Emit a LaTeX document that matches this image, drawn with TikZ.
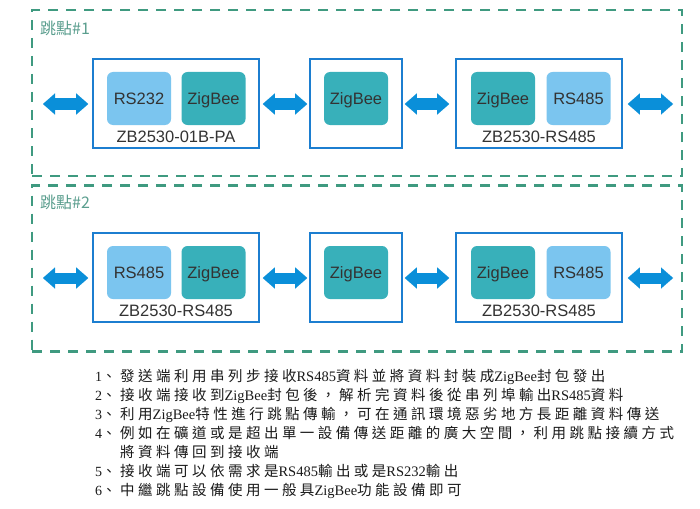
\documentclass[tikz,border=0pt]{standalone}
\usepackage{fontspec}
\setmainfont{Liberation Serif}
\newfontfamily\cjk[LetterSpace=24]{Noto Sans CJK TC}
\newfontfamily\cjklabel{Noto Sans CJK TC}
\newfontfamily\lsans{Liberation Sans}
\usetikzlibrary{arrows.meta}
\definecolor{dashgreen}{HTML}{3F9A80}
\definecolor{lightblue}{HTML}{7BC5EF}
\definecolor{tealbox}{HTML}{38B0BA}
\definecolor{boxblue}{HTML}{1C7ED0}
\definecolor{arrowblue}{HTML}{0A8FD9}
\definecolor{labelgreen}{HTML}{5A9E8E}
\definecolor{txtgray}{HTML}{333333}
\definecolor{bodytxt}{HTML}{1A1A1A}
\tikzset{
  group/.style={draw=dashgreen, line width=2.5pt, dash pattern=on 10pt off 8pt,
    minimum width=650pt, minimum height=166pt, inner sep=0pt},
  grouplabel/.style={anchor=west, inner sep=0pt, text=labelgreen,
    font=\cjklabel\fontsize{16}{16}\selectfont},
  module/.style={draw=boxblue, line width=1.6pt, fill=white,
    minimum width=166pt, minimum height=89pt, inner sep=0pt},
  relay/.style={module, minimum width=92pt},
  part/.style={rounded corners=6pt, minimum width=64pt, minimum height=53pt,
    inner sep=0pt, text height=11.8pt, text depth=0pt, text=txtgray,
    font=\lsans\fontsize{16.5}{16.5}\selectfont},
  light/.style={part, fill=lightblue},
  tealpart/.style={part, fill=tealbox},
  modlabel/.style={inner sep=0pt, text=txtgray, font=\lsans\fontsize{16.5}{16.5}\selectfont},
  lnk/.style={draw=arrowblue, line width=11pt,
    {Triangle[length=12pt,width=21pt,line width=0.01pt]}-{Triangle[length=12pt,width=21pt,line width=0.01pt]}},
  num/.style={anchor=base west, inner sep=0pt, text=bodytxt, font=\fontsize{14}{14}\selectfont},
  body/.style={anchor=base west, inner sep=0pt, text=bodytxt, font=\fontsize{14.5}{14.5}\selectfont},
}
\begin{document}
\begin{tikzpicture}[x=1pt,y=-1pt]
\useasboundingbox (0,0) rectangle (700,508);
\fill[white] (0,0) rectangle (700,508);

% group 1
\node[group] (g1) at (357,93) {};
\node[grouplabel] (g1l) at (40,28) {跳點\#1};
\node[module] (m11) at (176,103.5) {};
\node[light] (p111) at (139,98.5) {RS232};
\node[tealpart] (p112) at (213.5,98.5) {ZigBee};
\node[modlabel] (l11) at (176,137) {ZB2530-01B-PA};
\node[relay] (m12) at (356,103.5) {};
\node[tealpart] (p121) at (356,98.5) {ZigBee};
\node[module] (m13) at (539,103.5) {};
\node[tealpart] (p131) at (503,98.5) {ZigBee};
\node[light] (p132) at (578.5,98.5) {RS485};
\node[modlabel] (l13) at (539,137) {ZB2530-RS485};
\coordinate (a1) at (43,104);
\coordinate (b1) at (673,104);
\draw[lnk, shorten >=4pt] (a1) -- (a1 -| m11.west);
\draw[lnk, shorten <=3pt, shorten >=2pt] (m11.east |- a1) -- (m12.west |- a1);
\draw[lnk, shorten <=2pt, shorten >=6pt] (m12.east |- a1) -- (m13.west |- a1);
\draw[lnk, shorten <=5pt] (m13.east |- b1) -- (b1);

% group 2
\node[group] (g2) at (357,268.5) {};
\node[grouplabel] (g2l) at (40,202) {跳點\#2};
\node[module] (m21) at (176,277.5) {};
\node[light] (p211) at (139,272.5) {RS485};
\node[tealpart] (p212) at (213.5,272.5) {ZigBee};
\node[modlabel] (l21) at (176,311) {ZB2530-RS485};
\node[relay] (m22) at (356,277.5) {};
\node[tealpart] (p221) at (356,272.5) {ZigBee};
\node[module] (m23) at (539,277.5) {};
\node[tealpart] (p231) at (503,272.5) {ZigBee};
\node[light] (p232) at (578.5,272.5) {RS485};
\node[modlabel] (l23) at (539,311) {ZB2530-RS485};
\coordinate (a2) at (43,278);
\coordinate (b2) at (673,278);
\draw[lnk, shorten >=4pt] (a2) -- (a2 -| m21.west);
\draw[lnk, shorten <=3pt, shorten >=2pt] (m21.east |- a2) -- (m22.west |- a2);
\draw[lnk, shorten <=2pt, shorten >=6pt] (m22.east |- a2) -- (m23.west |- a2);
\draw[lnk, shorten <=5pt] (m23.east |- b2) -- (b2);

% notes
\node[num] (n1) at (95,381) {1{\cjk 、}};
\node[body] (t1) at (120,381) {{\cjk 發送端利用串列步接收}RS485{\cjk 資料並將資料封裝成}ZigBee{\cjk 封包發出}};
\node[num] (n2) at (95,400) {2{\cjk 、}};
\node[body] (t2) at (120,400) {{\cjk 接收端接收到}ZigBee{\cjk 封包後，解析完資料後從串列埠輸出}RS485{\cjk 資料}};
\node[num] (n3) at (95,419) {3{\cjk 、}};
\node[body] (t3) at (120,419) {{\cjk 利用}ZigBee{\cjk 特性進行跳點傳輸，可在通訊環境惡劣地方長距離資料傳送}};
\node[num] (n4) at (95,438) {4{\cjk 、}};
\node[body] (t4) at (120,438) {{\cjk 例如在礦道或是超出單一設備傳送距離的廣大空間，利用跳點接續方式}};
\node[body] (t4b) at (120,457) {{\cjk 將資料傳回到接收端}};
\node[num] (n5) at (95,476) {5{\cjk 、}};
\node[body] (t5) at (120,476) {{\cjk 接收端可以依需求是}RS485{\cjk 輸出或是}RS232{\cjk 輸出}};
\node[num] (n6) at (95,495) {6{\cjk 、}};
\node[body] (t6) at (120,495) {{\cjk 中繼跳點設備使用一般具}ZigBee{\cjk 功能設備即可}};
\end{tikzpicture}
\end{document}
